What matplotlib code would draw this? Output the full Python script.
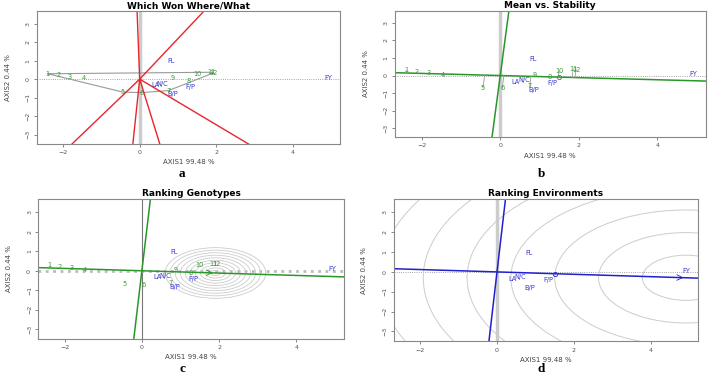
import numpy as np
import matplotlib
matplotlib.use('Agg')
import matplotlib.pyplot as plt
from matplotlib.patches import Circle

# genotype scores (AXIS1, AXIS2)
gen_labels = ['1', '2', '3', '4', '5', '6', '7', '8', '9', '10', '11', '12']
gen_x = [-2.40, -2.12, -1.82, -1.47, -0.44, 0.05, 0.75, 1.27, 0.87, 1.50, 1.86, 1.93]
gen_y = [0.29, 0.21, 0.14, 0.05, -0.70, -0.725, -0.62, -0.09, 0.04, 0.28, 0.37, 0.338]

# trait / environment scores
env_labels = ['FL', 'FY', 'LA', 'N/C', 'F/P', 'B/P']
env_x = [0.83, 4.93, 0.40, 0.60, 1.33, 0.86]
env_y = [0.96, 0.07, -0.34, -0.27, -0.41, -0.81]

# polygon vertices (genotype index) for which-won-where
hull_idx = [0, 10, 11, 6, 5, 4]

# average environment coordinate (small circle in b and d)
mean_env = [1.50, -0.09]

# concentric circles
gen_radii = [0.13, 0.26, 0.39, 0.52, 0.65, 0.78, 0.91, 1.04, 1.17, 1.30]
env_radii = [1.14, 2.28, 3.42, 4.56, 5.70, 6.84, 7.98]

xlab = 'AXIS1 99.48 %'
ylab = 'AXIS2 0.44 %'

GREEN = '#3c9a3c'
BLUE = '#3a3ad0'
gx = np.array(gen_x)
gy = np.array(gen_y)
ex = np.array(env_x)
ey = np.array(env_y)
u = np.array(mean_env) / np.hypot(*mean_env)


def base(ax, title, thick_v=True):
    ax.set_xlim(-2.68, 5.23)
    ax.set_ylim(-3.5, 3.68)
    ax.set_xticks([-2, 0, 2, 4])
    ax.set_yticks([-3, -2, -1, 0, 1, 2, 3])
    ax.tick_params(labelsize=4.5, length=2.5, width=0.5, colors='#555555', pad=2)
    for lab in ax.get_yticklabels():
        lab.set_rotation(90)
        lab.set_va('center')
    for s in ax.spines.values():
        s.set_color('#888888')
        s.set_linewidth(0.8)
    ax.set_xlabel(xlab, fontsize=5, color='#444444', labelpad=3)
    ax.set_ylabel(ylab, fontsize=5, color='#444444', labelpad=11)
    ax.set_title(title, fontsize=6.5, fontweight='bold', pad=2)
    if thick_v:
        ax.axvline(0, color='#cccccc', lw=2.5, zorder=0)
        ax.axhline(0, color='#888888', lw=0.6, ls=':', zorder=0)
    else:
        ax.axvline(0, color='#777777', lw=0.8, zorder=0)
        ax.axhline(0, color='#bbbbbb', lw=2.0, ls=':', zorder=0)


def labels(ax, genos=True, envs=True):
    if genos:
        for t, x, y in zip(gen_labels, gen_x, gen_y):
            ax.text(x, y, t, color=GREEN, fontsize=4.8, ha='center', va='center')
    if envs:
        for t, x, y in zip(env_labels, env_x, env_y):
            ax.text(x, y, t, color=BLUE, fontsize=4.8, ha='center', va='center')


def atc(ax, color):
    ax.axline((0, 0), (u[0], u[1]), color=color, lw=1.1)
    ax.axline((0, 0), (-u[1], u[0]), color=color, lw=1.1)


fig = plt.figure(figsize=(7.08, 3.76), dpi=100)
ax_a = fig.add_axes([0.0523, 0.617, 0.428, 0.354])
ax_b = fig.add_axes([0.558, 0.635, 0.4385, 0.3367])
ax_c = fig.add_axes([0.0541, 0.0984, 0.4318, 0.3723])
ax_d = fig.add_axes([0.5565, 0.0923, 0.4294, 0.3785])

# a - which won where
base(ax_a, 'Which Won Where/What')
hx = [gen_x[i] for i in hull_idx] + [gen_x[hull_idx[0]]]
hy = [gen_y[i] for i in hull_idx] + [gen_y[hull_idx[0]]]
ax_a.plot(hx, hy, color='#999999', lw=0.8)
for k in range(len(hull_idx)):
    p = np.array([hx[k], hy[k]])
    q = np.array([hx[k + 1], hy[k + 1]])
    d = q - p
    t = -np.dot(p, d) / np.dot(d, d)
    f = p + t * d
    f = f / np.hypot(*f) * 20
    ax_a.plot([0, f[0]], [0, f[1]], color='#e8262a', lw=1.0)
labels(ax_a)

# b - mean vs stability
base(ax_b, 'Mean vs. Stability')
atc(ax_b, '#2a962a')
for x, y in zip(gx, gy):
    pr = np.dot([x, y], u) * u
    ax_b.plot([x, pr[0]], [y, pr[1]], color='#999999', lw=0.6)
ax_b.plot(mean_env[0], mean_env[1], 'o', mfc='none', mec=GREEN, ms=3, mew=0.7)
labels(ax_b)

# c - ranking genotypes
base(ax_c, 'Ranking Genotypes', thick_v=False)
best = np.max(gx * u[0] + gy * u[1])
ideal_g = best * u
for r in gen_radii:
    ax_c.add_patch(Circle(ideal_g, r, fill=False, ec='#cccccc', lw=0.6))
atc(ax_c, '#2a962a')
ax_c.annotate('', xy=ideal_g, xytext=ideal_g - 0.25 * u,
              arrowprops=dict(arrowstyle='->', color='#2a962a', lw=0.6))
labels(ax_c)

# d - ranking environments
base(ax_d, 'Ranking Environments')
ideal_e = np.max(np.hypot(ex, ey)) * u
for r in env_radii:
    ax_d.add_patch(Circle(ideal_e, r, fill=False, ec='#cccccc', lw=0.7))
atc(ax_d, '#2020d0')
ax_d.annotate('', xy=ideal_e, xytext=ideal_e - 0.3 * u,
              arrowprops=dict(arrowstyle='->', color='#2020d0', lw=0.6))
ax_d.plot(mean_env[0], mean_env[1], 'o', mfc='none', mec=BLUE, ms=3, mew=0.7)
labels(ax_d, genos=False)

for t, x, y in [('a', 181.7, 174), ('b', 541.7, 174), ('c', 182.7, 369), ('d', 540.7, 369)]:
    fig.text(x / 708, 1 - y / 376, t, fontsize=9.5, fontweight='bold',
             family='Liberation Serif', ha='center', va='center')

fig.savefig('out.png', dpi=100)
